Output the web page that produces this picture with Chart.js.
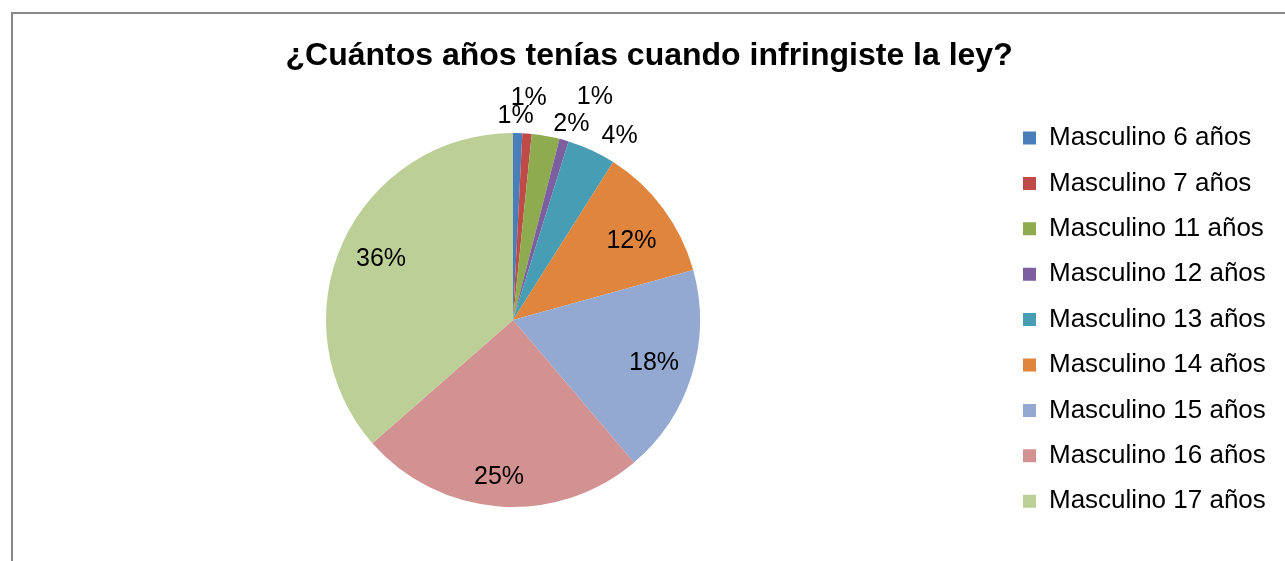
<!DOCTYPE html>
<html>
<head>
<meta charset="utf-8">
<style>
    body { margin: 0; background: #fff; overflow: hidden; }
    .frame { position: absolute; left: 11px; top: 12px; width: 2000px; height: 1000px;
             border-left: 2px solid #888; border-top: 2px solid #888; pointer-events: none; }
    .canvas-hold { position: absolute; left: 0; top: 0; width: 1285px; height: 561px; }
</style>
</head>
<body>
    <div class="canvas-hold"><canvas></canvas></div>
    <div class="frame"></div>
    <script src="https://cdn.jsdelivr.net/npm/chart.js"></script>
    <script>
        // categories and values (percent)
        const ages = ['Masculino 6 años', 'Masculino 7 años', 'Masculino 11 años', 'Masculino 12 años',
            'Masculino 13 años', 'Masculino 14 años', 'Masculino 15 años', 'Masculino 16 años', 'Masculino 17 años'];
        const shares = [0.8, 0.8, 2.4, 0.8, 4.2, 11.7, 18.1, 24.75, 36.45];
        const colors = ['#4A7EBB', '#BE4B48', '#8EAB50', '#7D5FA0', '#469DB4',
            '#DF853E', '#94A9D1', '#D29291', '#BBCF97'];

        // where Excel put each percent label: angle nudge (deg) and distance (x radius)
        const labelNudge = [-0.7, -0.3, 6.4, 4.2, 5.1, 2.3, -0.5, 0.9, 0.8];
        const labelDist = [1.096, 1.198, 1.099, 1.277, 1.142, 0.766, 0.787, 0.835, 0.78];

        const FONT = "'Liberation Sans', Arial, sans-serif";
        Chart.defaults.font.family = FONT;
        Chart.defaults.color = '#000';

        const pctLabels = {
            id: 'pctLabels',
            afterDatasetsDraw(chart) {
                const ctx = chart.ctx;
                const arcs = chart.getDatasetMeta(0).data;
                const total = shares.reduce((a, b) => a + b, 0);
                ctx.save();
                ctx.font = '25px ' + FONT;
                ctx.fillStyle = '#000';
                ctx.textAlign = 'center';
                ctx.textBaseline = 'middle';
                arcs.forEach((arc, i) => {
                    const p = arc.getProps(['x', 'y', 'startAngle', 'endAngle', 'outerRadius'], true);
                    const a = (p.startAngle + p.endAngle) / 2 + labelNudge[i] * Math.PI / 180;
                    const r = p.outerRadius * labelDist[i];
                    // +1.5 so the digits' ink sits centred on the spot
                    ctx.fillText(Math.round(shares[i] / total * 100) + '%', p.x + Math.cos(a) * r, p.y + Math.sin(a) * r + 1.5);
                });
                ctx.restore();
            }
        };

        let chart = new Chart(document.querySelector('canvas').getContext('2d'), {
            type: 'pie',
            data: {
                labels: ages,
                datasets: [{
                    data: shares,
                    backgroundColor: colors,
                    borderWidth: 0
                }]
            },
            options: {
                responsive: true,
                maintainAspectRatio: false,
                animation: false,
                layout: { padding: { left: 22.4, right: 9.2, top: 103, bottom: 24.8 } },
                plugins: {
                    title: {
                        display: true,
                        text: '¿Cuántos años tenías cuando infringiste la ley?',
                        font: { size: 32, weight: 'bold' },
                        color: '#000',
                        padding: { top: -66.2, bottom: 57.8 }
                    },
                    subtitle: {
                        display: true,
                        position: 'bottom',
                        text: '',
                        padding: { top: 14.8, bottom: 0 }
                    },
                    legend: {
                        position: 'right',
                        labels: {
                            font: { size: 26 },
                            color: '#000',
                            boxWidth: 13,
                            boxHeight: 13,
                            padding: 19.4
                        }
                    },
                    tooltip: { enabled: false }
                }
            },
            plugins: [pctLabels]
        });
    </script>
</body>
</html>
